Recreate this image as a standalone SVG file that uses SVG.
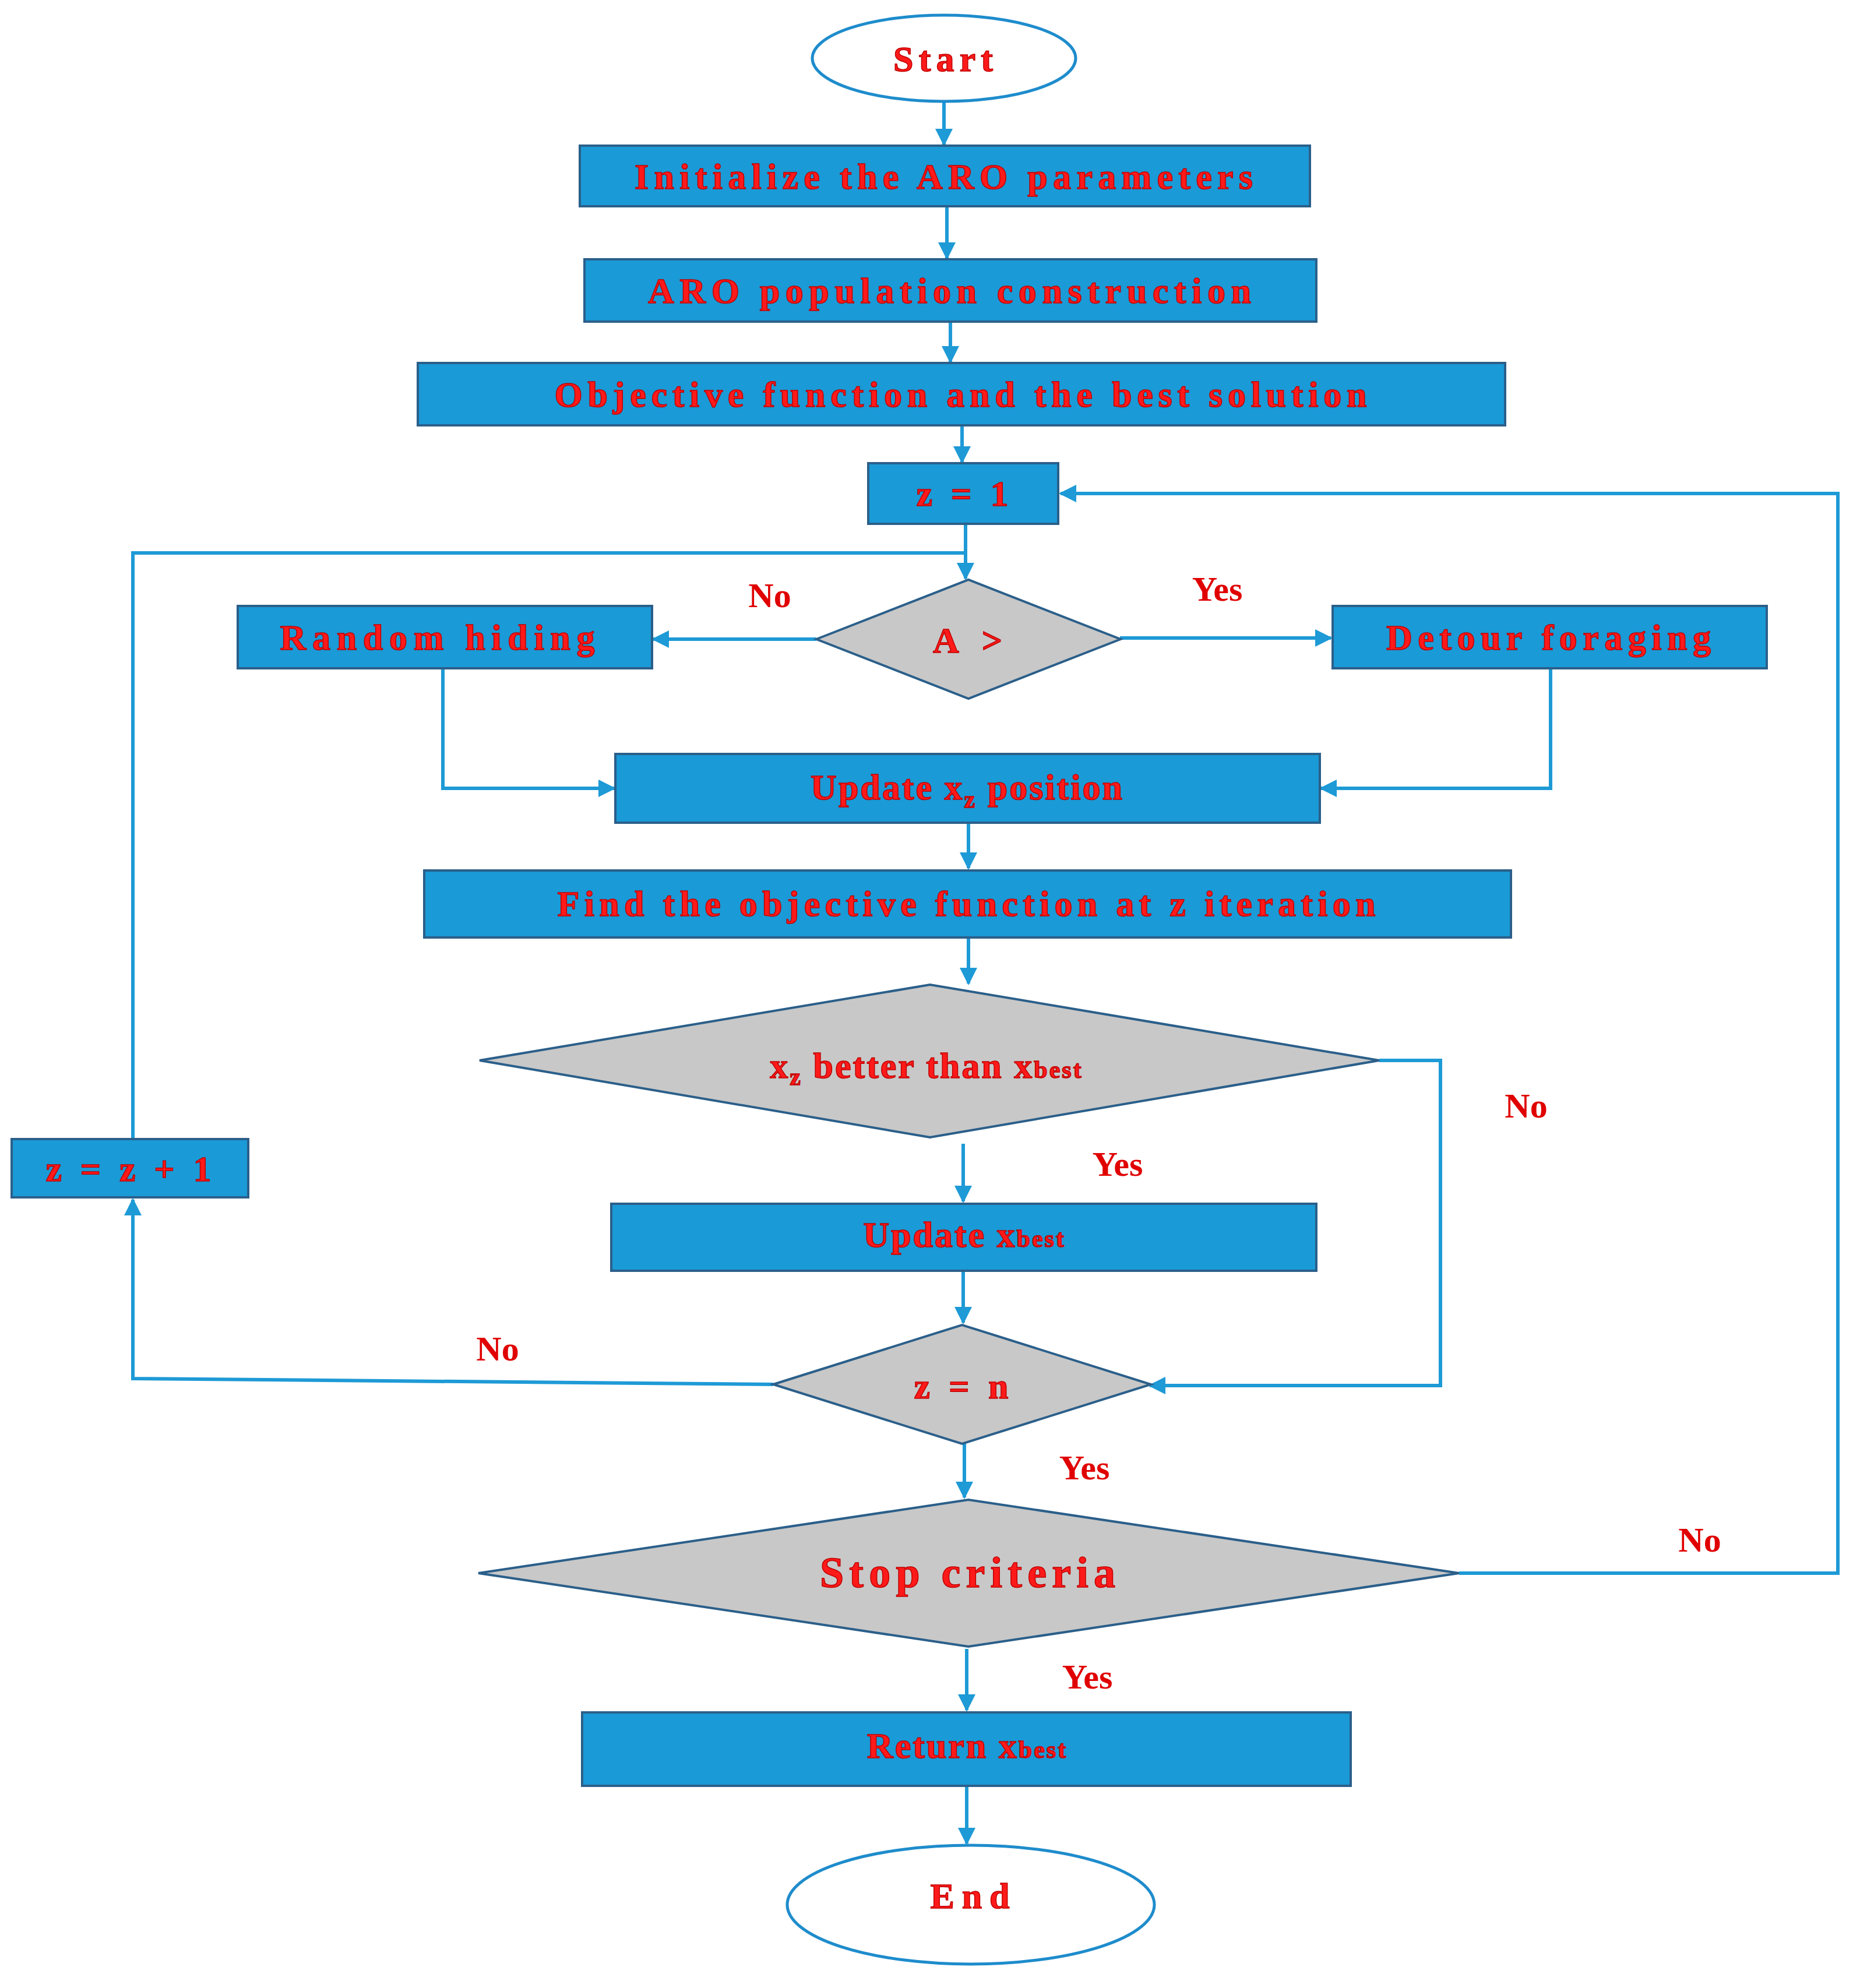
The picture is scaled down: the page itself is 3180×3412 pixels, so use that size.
<svg xmlns="http://www.w3.org/2000/svg" width="3180" height="3412" viewBox="0 0 3180 3412">
<style>
.box{fill:#1a9ad6;stroke:#2b5f8a;stroke-width:4}
.dia{fill:#c8c8c8;stroke:#2b5f8a;stroke-width:4}
.ell{fill:#fff;stroke:#1e8ccc;stroke-width:5}
.t{font-family:"Liberation Serif",serif;font-weight:bold;fill:#ff1a1a;stroke:#c00000;stroke-width:1.5;text-anchor:middle;font-size:62px;letter-spacing:3px}
.l{font-family:"Liberation Serif",serif;font-weight:bold;fill:#e00000;font-size:60px;text-anchor:middle}
.c{fill:none;stroke:#1e9ad6;stroke-width:6}
.s{font-size:42px}
</style>
<defs><marker id="a" viewBox="0 0 10 10" refX="9" refY="5" markerWidth="5" markerHeight="5" orient="auto"><path d="M0,0L10,5L0,10z" fill="#1e9ad6"/></marker></defs>
<g id="connectors">
<path class="c" marker-end="url(#a)" d="M1620,174V248"/>
<path class="c" marker-end="url(#a)" d="M1625,354V443"/>
<path class="c" marker-end="url(#a)" d="M1631,552V621"/>
<path class="c" marker-end="url(#a)" d="M1651,730V793"/>
<path class="c" marker-end="url(#a)" d="M1657,899V993"/>
<path class="c" d="M228,1955V949H1657"/>
<path class="c" marker-end="url(#a)" d="M1401,1097H1121"/>
<path class="c" marker-end="url(#a)" d="M1922,1095H2284"/>
<path class="c" marker-end="url(#a)" d="M760,1147V1353H1054"/>
<path class="c" marker-end="url(#a)" d="M2661,1147V1353H2267"/>
<path class="c" marker-end="url(#a)" d="M1662,1412V1490"/>
<path class="c" marker-end="url(#a)" d="M1662,1609V1688"/>
<path class="c" marker-end="url(#a)" d="M1653,1963V2062"/>
<path class="c" marker-end="url(#a)" d="M2367,1820H2472V2378H1973"/>
<path class="c" marker-end="url(#a)" d="M1653,2181V2270"/>
<path class="c" marker-end="url(#a)" d="M1327,2376L228,2366V2059"/>
<path class="c" marker-end="url(#a)" d="M1655,2478V2570"/>
<path class="c" marker-end="url(#a)" d="M2504,2700H3154V847H1820"/>
<path class="c" marker-end="url(#a)" d="M1659,2830V2935"/>
<path class="c" marker-end="url(#a)" d="M1659,3065V3164"/>
</g>
<g id="start"><ellipse class="ell" cx="1620" cy="100" rx="226" ry="74"/><text class="t" x="1620" y="122" textLength="174">Start</text></g>
<g id="init"><rect class="box" x="995" y="250" width="1253" height="104"/><text class="t" x="1621" y="324" textLength="1064">Initialize the ARO parameters</text></g>
<g id="pop"><rect class="box" x="1003" y="445" width="1256" height="107"/><text class="t" x="1631" y="520" textLength="1038">ARO population construction</text></g>
<g id="obj"><rect class="box" x="717" y="623" width="1866" height="107"/><text class="t" x="1650" y="698" textLength="1397">Objective function and the best solution</text></g>
<g id="z1"><rect class="box" x="1490" y="795" width="326" height="104"/><text class="t" x="1653" y="868" textLength="161">z = 1</text></g>
<g id="dA"><path class="dia" d="M1401,1097L1662,995L1923,1097L1662,1199z"/><text class="t" x="1662" y="1120" textLength="122">A &gt;</text></g>
<g id="random"><rect class="box" x="408" y="1040" width="711" height="107"/><text class="t" x="752" y="1115" textLength="543">Random hiding</text></g>
<g id="detour"><rect class="box" x="2287" y="1040" width="745" height="107"/><text class="t" x="2659" y="1115" textLength="560">Detour foraging</text></g>
<g id="update"><rect class="box" x="1056" y="1294" width="1209" height="118"/><text class="t" x="1660" y="1372">Update x<tspan class="s" dy="14">z</tspan><tspan dy="-14"> position</tspan></text></g>
<g id="find"><rect class="box" x="728" y="1494" width="1865" height="115"/><text class="t" x="1660" y="1572" textLength="1407">Find the objective function at z iteration</text></g>
<g id="dbetter"><path class="dia" d="M823,1820L1596,1690L2367,1820L1596,1952z"/><text class="t" x="1590" y="1850">x<tspan class="s" dy="12">z</tspan><tspan dy="-12"> better than x</tspan><tspan class="s">best</tspan></text></g>
<g id="zinc"><rect class="box" x="20" y="1955" width="406" height="100"/><text class="t" x="222" y="2027" textLength="287">z = z + 1</text></g>
<g id="upbest"><rect class="box" x="1049" y="2066" width="1210" height="115"/><text class="t" x="1655" y="2140">Update x<tspan class="s">best</tspan></text></g>
<g id="dzn"><path class="dia" d="M1327,2376L1651,2274L1975,2376L1651,2478z"/><text class="t" x="1651" y="2400" textLength="165">z = n</text></g>
<g id="dstop"><path class="dia" d="M821,2700L1662,2574L2504,2700L1662,2826z"/><text class="t" x="1662" y="2724" style="font-size:74px" textLength="510">Stop criteria</text></g>
<g id="ret"><rect class="box" x="999" y="2939" width="1319" height="126"/><text class="t" x="1660" y="3017">Return x<tspan class="s">best</tspan></text></g>
<g id="end"><ellipse class="ell" cx="1666" cy="3269" rx="315" ry="102"/><text class="t" x="1666" y="3275" textLength="139">End</text></g>
<g id="labels">
<text class="l" x="1321" y="1042">No</text>
<text class="l" x="2089" y="1031">Yes</text>
<text class="l" x="1918" y="2018">Yes</text>
<text class="l" x="2619" y="1918">No</text>
<text class="l" x="854" y="2335">No</text>
<text class="l" x="1861" y="2539">Yes</text>
<text class="l" x="2917" y="2663">No</text>
<text class="l" x="1866" y="2898">Yes</text>
</g>
</svg>
